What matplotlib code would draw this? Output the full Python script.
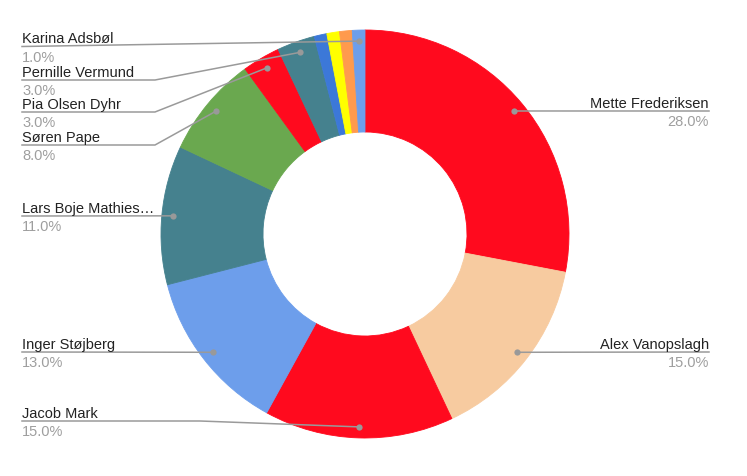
import matplotlib
matplotlib.use("Agg")
import matplotlib.pyplot as plt
import numpy as np

# ---- data ----
names = ["Mette Frederiksen", "Alex Vanopslagh", "Jacob Mark", "Inger Støjberg",
         "Lars Boje Mathies…", "Søren Pape", "Pia Olsen Dyhr", "Pernille Vermund",
         None, None, None, "Karina Adsbøl"]
values = [28, 15, 15, 13, 11, 8, 3, 3, 1, 1, 1, 1]
colors = ["#FF0A1E", "#F7CBA0", "#FF0A1E", "#6D9EEB", "#45818E", "#6AA84F",
          "#FF0A1E", "#45818E", "#3C78D8", "#FFFF00", "#FF9A4D", "#6D9EEB"]

# ---- layout (pixels, y measured from top) ----
W, H = 747, 477
cx, cy, R = 365, 235, 204
hole_frac = 0.5
dot_frac = 0.946
# label line y positions, side, and knee x
label_layout = {
    "Mette Frederiksen": (112, "right", None),
    "Alex Vanopslagh": (353, "right", None),
    "Jacob Mark": (422, "left", 200),
    "Inger Støjberg": (353, "left", None),
    "Lars Boje Mathies…": (217, "left", None),
    "Søren Pape": (146, "left", 155),
    "Pia Olsen Dyhr": (113, "left", 155),
    "Pernille Vermund": (81, "left", 155),
    "Karina Adsbøl": (47.5, "left", 22),
}
left_x, right_x = 22, 709
fs = 10.5

plt.rcParams['font.family'] = ['Liberation Sans', 'DejaVu Sans']
fig = plt.figure(figsize=(W / 100, H / 100), dpi=100)
ax = fig.add_axes([0, 0, 1, 1])

def fy(y):
    return H - y

wedges, _ = ax.pie(values, colors=colors, startangle=90, counterclock=False,
                   center=(cx, fy(cy)), radius=R,
                   wedgeprops=dict(width=R * (1 - hole_frac), linewidth=0.6))
for w, c in zip(wedges, colors):
    w.set_edgecolor(c)

ax.set_xlim(0, W)
ax.set_ylim(0, H)
ax.set_aspect('equal')
ax.axis('off')

total = sum(values)
line_col = "#9a9a9a"
for w, name, v in zip(wedges, names, values):
    if name is None:
        continue
    mid = np.deg2rad((w.theta1 + w.theta2) / 2)
    dx = cx + dot_frac * R * np.cos(mid)
    dy = fy(cy) + dot_frac * R * np.sin(mid)
    ly, side, knee = label_layout[name]
    ly = fy(ly)
    pct = f"{100 * v / total:.1f}%"
    if side == "right":
        ax.plot([dx, right_x], [dy, ly], color=line_col, lw=1.1, zorder=3)
        ax.text(right_x, ly + 4.3, name, ha='right', va='baseline',
                fontsize=fs, color="#222222")
        ax.text(right_x, ly - 14, pct, ha='right', va='baseline',
                fontsize=fs, color="#9e9e9e")
    else:
        if knee is None:
            xs, ys = [left_x, dx], [ly, dy]
        else:
            xs, ys = [left_x, knee, dx], [ly, ly, dy]
        ax.plot(xs, ys, color=line_col, lw=1.1, zorder=3)
        ax.text(left_x, ly + 4.3, name, ha='left', va='baseline',
                fontsize=fs, color="#222222")
        ax.text(left_x, ly - 14, pct, ha='left', va='baseline',
                fontsize=fs, color="#9e9e9e")
    ax.plot([dx], [dy], 'o', color="#999999", ms=4.5, mec='none', zorder=4)

fig.savefig("out.png", dpi=100)
